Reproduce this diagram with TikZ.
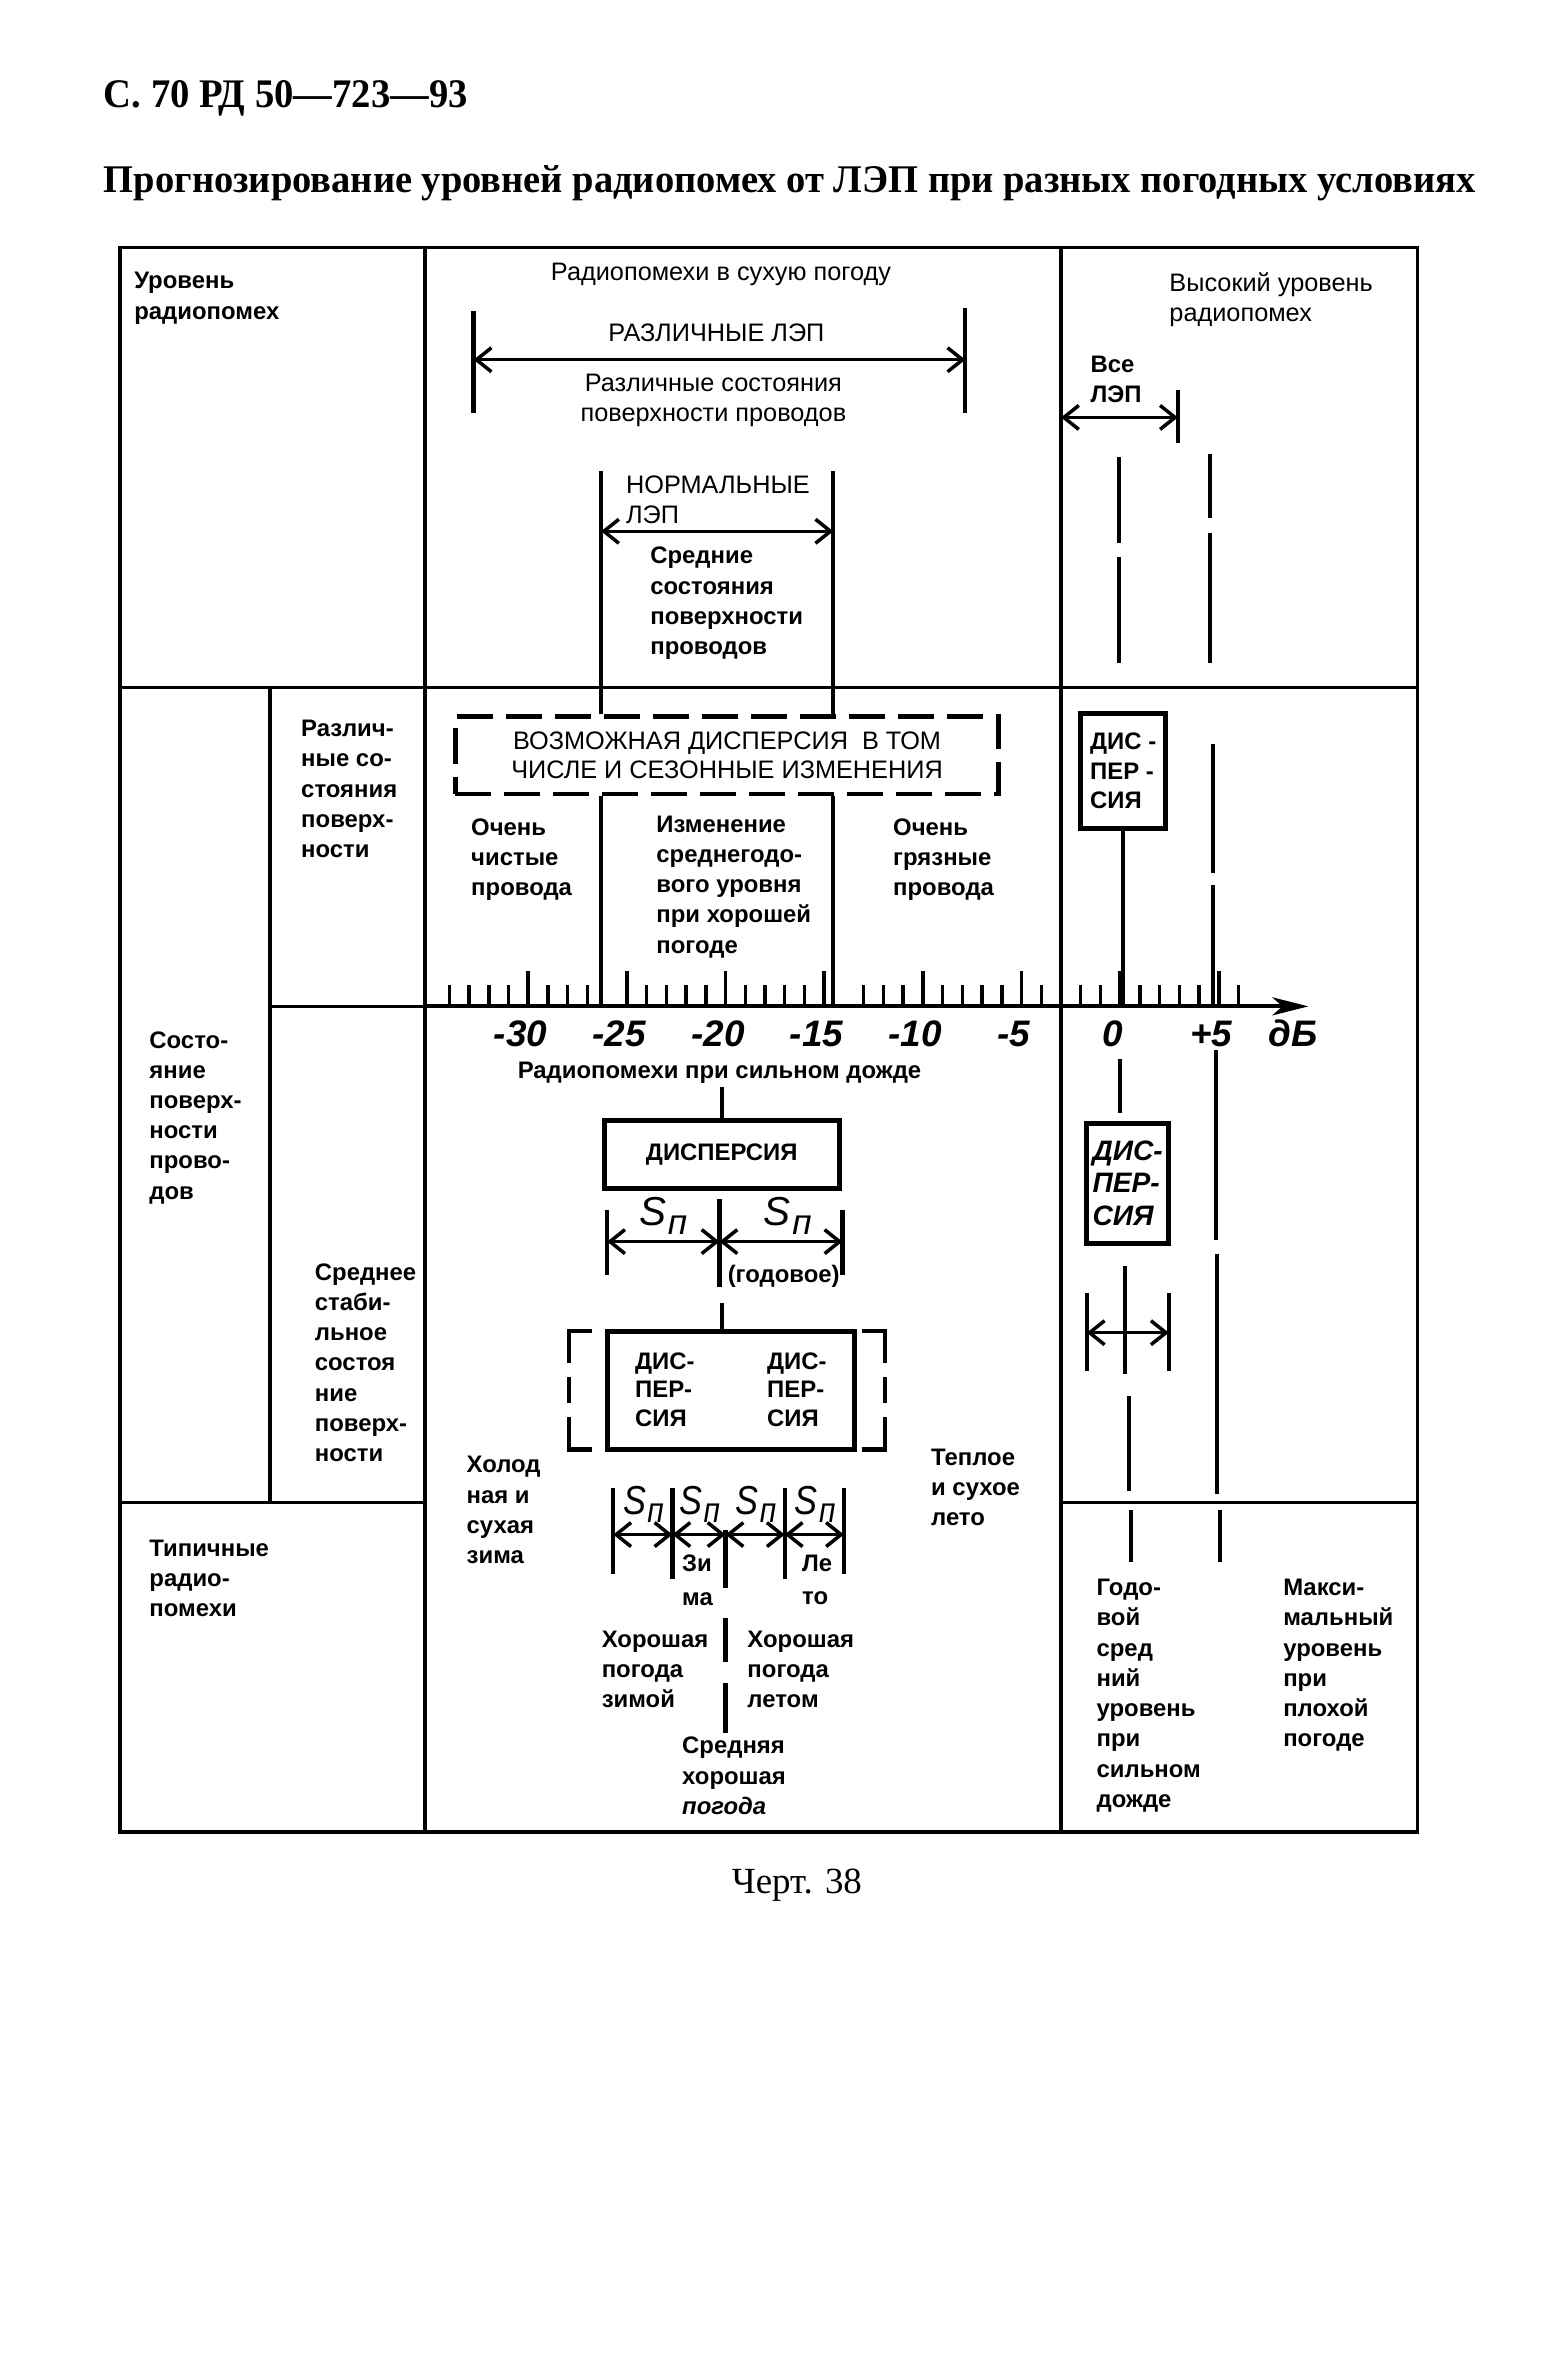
\documentclass[tikz,border=0pt]{standalone}
\usepackage{fontspec}
\setmainfont{Liberation Serif}
\setsansfont{Liberation Sans}
\usetikzlibrary{arrows.meta,positioning}

\newcommand\upx{0.015175cm}
\newcommand\Sn{S\kern0.04em\raisebox{-0.4ex}{\fontsize{10}{12}\selectfont п}}

\begin{document}
\begin{tikzpicture}[
    x=\upx, y=-\upx,
    grid/.style={line width=1pt},
    mline/.style={line width=1.2pt},
    dim/.style={line width=1pt,{Straight Barb[length=1.5mm,width=2.4mm]}-{Straight Barb[length=1.5mm,width=2.4mm]}},
    txt/.style={font=\sffamily\bfseries\fontsize{6.8}{8.6}\selectfont,inner sep=0pt,align=left,anchor=north west},
    txtl/.style={font=\sffamily\fontsize{7.2}{8.6}\selectfont,inner sep=0pt,align=left,anchor=north west},
    box/.style={draw,line width=1.4pt,inner sep=0pt,align=left},
    dbox/.style={draw,line width=1.3pt,dash pattern=on 3.6mm off 1.3mm,inner sep=0pt,align=center},
    num/.style={font=\sffamily\bfseries\itshape\fontsize{10.5}{13}\selectfont,inner sep=0pt},
    sn/.style={font=\sffamily\itshape\fontsize{11.5}{14}\selectfont,inner sep=0pt},
    >=Latex]
  \useasboundingbox (0,0) rectangle (1026,1568);

  % header and title
  \node[anchor=base west,inner sep=0pt] (page) at (68,71)
    {\resizebox{3.64cm}{0.27cm}{\bfseries С. 70 РД 50—723—93}};
  \node[anchor=base west,inner sep=0pt] (title) at (68,127)
    {\resizebox{13.72cm}{0.27cm}{\bfseries Прогнозирование уровней радиопомех от ЛЭП при разных погодных условиях}};

  % table frame
  \draw[grid] (79,163) rectangle (934,1207);
  \draw[grid] (79,453) -- (934,453);
  \draw[grid] (280,163) -- (280,1207);
  \draw[grid] (699,163) -- (699,1207);
  \draw[grid] (178,453) -- (178,990);
  \draw[grid] (178,663) -- (280,663);
  \draw[grid] (79,990) -- (280,990) (699,990) -- (934,990);

  % scale
  \coordinate (ax0) at (280,663);
  \coordinate (ax1) at (862,663);
  \draw[line width=1.1pt,-{Stealth[length=3.6mm,width=1.8mm,inset=1mm]}] (ax0) -- (ax1);
  \foreach \d in {-34,-33,...,-27,-25,-24,...,-15,-13,-12,...,6}{
    \pgfmathsetmacro\tl{mod(\d,5)==0 ? 23 : 14}
    \draw[line width=1pt] ({738+13*\d},663) -- ++(0,-\tl);
  }
  \foreach \d/\t in {-30/-30,-25/-25,-20/-20,-15/-15,-10/-10,-5/-5,0/0,5/+5}
    \node[num] at ({733+13*\d},681) {\t};
  \node[num] (db) at (852,681) {дБ};

  % top row
  \node[txt] (lvl) at (88,179) {Уровень\\радиопомех};
  \node[txtl,anchor=center] (dry) at (475,181) {Радиопомехи в сухую погоду};
  \draw[mline] (312,205) -- (312,272) (636,203) -- (636,272);
  \draw[dim] (312,237) -- (636,237);
  \node[txtl,anchor=center] (allL) at (472,219) {РАЗЛИЧНЫЕ ЛЭП};
  \node[txtl,anchor=north,align=center] (allS) at (470,246) {Различные состояния\\поверхности проводов};

  \coordinate (nl) at (396,310);
  \coordinate (nr) at (549,310);
  \draw[dim] (396,350) -- (549,350);
  \node[txtl] (normL) at (412,313) {НОРМАЛЬНЫЕ\\ЛЭП};
  \node[txt] (normS) at (428,360) {Средние\\состояния\\поверхности\\проводов};

  \node[txtl] (high) at (770,179) {Высокий уровень\\радиопомех};
  \node[txt] (alllep) at (718,234) {Все\\ЛЭП};
  \draw[dim] (699,275) -- (776,275);
  \draw[mline] (776,257) -- (776,292);
  \draw[mline] (737,301) -- (737,358) (737,367) -- (737,437);
  \draw[mline] (797,299) -- (797,341) (797,351) -- (797,437);

  % second row
  \node[txt] (var) at (198,474) {Различ-\\ные со-\\стояния\\поверх-\\ности};
  \node[dbox,minimum width=358*\upx,minimum height=51*\upx,
        font=\sffamily\fontsize{7.2}{8.2}\selectfont] (vozm) at (479,497.5)
    {ВОЗМОЖНАЯ ДИСПЕРСИЯ~~В ТОМ\\ЧИСЛЕ И СЕЗОННЫЕ ИЗМЕНЕНИЯ};
  \draw[mline] (nl) -- (nl |- vozm.north) (nl |- vozm.south) -- (nl |- ax0);
  \draw[mline] (nr) -- (nr |- vozm.north) (nr |- vozm.south) -- (nr |- ax0);
  \node[txt] (clean) at (310,539) {Очень\\чистые\\провода};
  \node[txt] (mean) at (432,537) {Изменение\\среднегодо-\\вого уровня\\при хорошей\\погоде};
  \node[txt] (dirty) at (588,539) {Очень\\грязные\\провода};

  \node[box,minimum width=56*\upx,minimum height=76*\upx,
        font=\sffamily\bfseries\fontsize{6.8}{8.4}\selectfont] (dispA) at (740,508) {ДИС -\\ПЕР -\\СИЯ};
  \draw[mline] (dispA.south) -- (dispA.south |- ax0);
  \draw[mline] (799,490) -- (799,575) (799,583) -- (799,663);

  % left column
  \node[txt] (surf) at (98,679) {Состо-\\яние\\поверх-\\ности\\прово-\\дов};
  \node[txt] (stab) at (207,832) {Среднее\\стаби-\\льное\\состоя\\ние\\поверх-\\ности};
  \node[txt] (typ) at (98,1014) {Типичные\\радио-\\помехи};

  % heavy rain
  \node[txt,anchor=center] (rain) at (474,707) {Радиопомехи при сильном дожде};
  \node[box,minimum width=155*\upx,minimum height=45*\upx,
        font=\sffamily\bfseries\fontsize{6.8}{8.6}\selectfont] (disp) at (475.5,760.5) {ДИСПЕРСИЯ};
  \draw[mline] (disp.north) -- ++(0,-20);
  \draw[mline] (474,790) -- (474,848);
  \draw[mline] (400,797) -- (400,840) (555,797) -- (555,840);
  \draw[dim] (400,818) -- (474,818);
  \draw[dim] (474,818) -- (555,818);
  \node[sn] (sl) at (437,801) {\Sn};
  \node[sn] (sr) at (519,801) {\Sn};
  \node[txt,anchor=west] (year) at (479,841) {(годовое)};

  \node[box,minimum width=163*\upx,minimum height=78*\upx] (pair) at (481.5,916) {};
  \draw[mline] (disp.center |- pair.north) -- ++(0,-17);
  \node[txt,font=\sffamily\bfseries\fontsize{6.8}{8}\selectfont] (pl) at (418,891) {ДИС-\\ПЕР-\\СИЯ};
  \node[txt,font=\sffamily\bfseries\fontsize{6.8}{8}\selectfont] (pr) at (505,891) {ДИС-\\ПЕР-\\СИЯ};
  \draw[mline,dash pattern=on 5.5mm off 1.4mm on 2.6mm off 1.4mm] (390,877) -- (375,877) -- (375,955) -- (390,955);
  \draw[mline,dash pattern=on 5.5mm off 1.4mm on 2.6mm off 1.4mm] (568,877) -- (583,877) -- (583,955) -- (568,955);

  \node[txt] (cold) at (307,959) {Холод\\ная и\\сухая\\зима};
  \node[txt] (warm) at (613,954) {Теплое\\и сухое\\лето};

  \draw[mline] (404,980) -- (404,1037) (443,980) -- (443,1040) (478,1008) -- (478,1046)
              (517,980) -- (517,1040) (556,980) -- (556,1037);
  \foreach \a/\b in {404/443,443/478,478/517,517/556}
    \draw[dim] (\a,1011) -- (\b,1011);
  \foreach \c in {424,461,498,537}
    \node[sn] at (\c,991) {\scalebox{0.85}[1]{\Sn}};
  \node[txt,font=\sffamily\bfseries\fontsize{6.8}{9.5}\selectfont] (win) at (449,1024) {Зи\\ма};
  \node[txt,font=\sffamily\bfseries\fontsize{6.8}{9.5}\selectfont] (sum) at (528,1024) {Ле\\то};

  \draw[mline] (478,1066) -- (478,1095) (478,1109) -- (478,1142);
  \node[txt] (gw) at (396,1074) {Хорошая\\погода\\зимой};
  \node[txt] (gs) at (492,1074) {Хорошая\\погода\\летом};
  \node[txt] (avg) at (449,1144) {Средняя\\хорошая\\\textit{погода}};

  % right column, heavy rain
  \draw[mline] (738,698) -- (738,733);
  \node[box,minimum width=54*\upx,minimum height=79*\upx,
        font=\sffamily\bfseries\itshape\fontsize{8}{9.3}\selectfont] (dispB) at (743,779.5) {ДИС-\\ПЕР-\\СИЯ};
  \draw[mline] (741,834) -- (741,905);
  \draw[mline] (716,852) -- (716,903) (770,852) -- (770,903);
  \draw[dim] (716,878) -- (770,878);
  \draw[mline] (744,920) -- (744,982) (745,995) -- (745,1029);
  \draw[mline] (801,692) -- (801,817) (802,826) -- (802,984) (804,995) -- (804,1029);

  \node[txt] (ann) at (722,1040) {Годо-\\вой\\сред\\ний\\уровень\\при\\сильном\\дожде};
  \node[txt] (max) at (845,1040) {Макси-\\мальный\\уровень\\при\\плохой\\погоде};

  \node[font=\fontsize{10.5}{12}\selectfont,inner sep=0pt] (cap) at (525,1242) {Черт. 38};
\end{tikzpicture}
\end{document}
